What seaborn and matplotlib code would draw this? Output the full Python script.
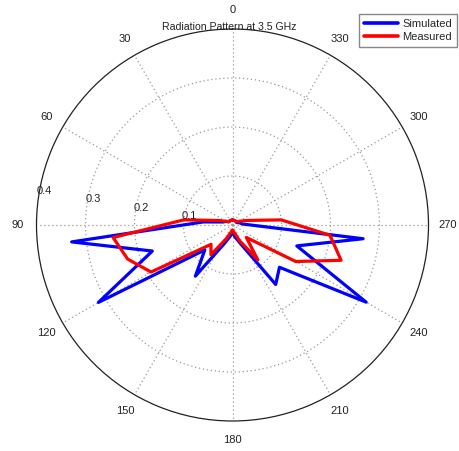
import numpy as np
import pandas as pd
import matplotlib
matplotlib.use("Agg")
import matplotlib.pyplot as plt
import seaborn as sns

sns.set_style("white")
plt.rcParams["font.family"] = ["Liberation Sans", "DejaVu Sans"]

# Sample angles (degrees), one every 12 degrees, loop closed at 360
angles_deg = [0, 12, 24, 36, 48, 60, 72, 84, 96, 108, 120, 132, 144, 156, 168,
              180, 192, 204, 216, 228, 240, 252, 264, 276, 288, 300, 312, 324,
              336, 348, 360]

simulated = [0.010, 0.010, 0.010, 0.010, 0.010, 0.015, 0.020, 0.060, 0.330,
             0.172, 0.316, 0.076, 0.129, 0.042, 0.024, 0.015, 0.025, 0.043,
             0.150, 0.129, 0.315, 0.138, 0.268, 0.020, 0.015, 0.010, 0.010,
             0.010, 0.010, 0.010, 0.010]

measured = [0.010, 0.010, 0.010, 0.010, 0.010, 0.015, 0.030, 0.100, 0.245,
            0.225, 0.192, 0.059, 0.075, 0.030, 0.015, 0.010, 0.015, 0.035,
            0.088, 0.038, 0.149, 0.233, 0.200, 0.100, 0.030, 0.015, 0.010,
            0.010, 0.010, 0.010, 0.010]

series_names = ["Simulated", "Measured"]
series_colors = ["#0000FF", "#FF0000"]

r_ticks = [0.1, 0.2, 0.3, 0.4]
theta_ticks = [0, 30, 60, 90, 120, 150, 180, 210, 240, 270, 300, 330]
title = "Radiation Pattern at 3.5 GHz"

r_max = 0.4

W, H = 459, 451
fig = plt.figure(figsize=(W / 100, H / 100), dpi=100)
cx, cy, rad = 232.5, 225.0, 196.0
ax = fig.add_axes([(cx - rad) / W, (H - cy - rad) / H, 2 * rad / W, 2 * rad / H],
                  projection="polar")
ax.set_theta_zero_location("N")
ax.set_theta_direction(1)
ax.set_ylim(0, r_max)
ax.set_facecolor("white")

# dotted spokes and rings
ax.set_xticks(np.deg2rad(theta_ticks))
ax.set_xticklabels([])
ax.set_yticks(r_ticks[:-1])
ax.set_yticklabels([])
ax.grid(True, color="#9a9a9a", linestyle=(0, (1, 2.2)), linewidth=0.9)
ax.spines["polar"].set_color("#222222")
ax.spines["polar"].set_linewidth(0.9)
ax.tick_params(length=0)

df = pd.DataFrame({
    "theta": np.deg2rad(angles_deg * 2),
    "r": simulated + measured,
    "series": [series_names[0]] * len(angles_deg) + [series_names[1]] * len(angles_deg),
})
for name, col in zip(series_names, series_colors):
    sub = df[df["series"] == name]
    sns.lineplot(data=sub, x="theta", y="r", sort=False, estimator=None,
                 color=col, linewidth=2.3, label=name, ax=ax, zorder=3)
ax.set_xlabel("")
ax.set_ylabel("")

# angle labels around the rim
for t in theta_ticks:
    ax.text(np.deg2rad(t), r_max * 1.097, str(t), ha="center", va="center",
            fontsize=8, color="#222222", clip_on=False)

# radius labels along a ray near 90 degrees
for rv in r_ticks:
    ax.text(np.deg2rad(80), rv + 0.005, f"{rv:g}", ha="left", va="center",
            fontsize=8, color="#222222", clip_on=False)

fig.text(229 / W, 1 - 27 / H, title, ha="center", va="center", fontsize=7.6,
         color="#222222")

leg = ax.legend(loc="upper left", bbox_to_anchor=(359 / W, 1 - 14 / H),
                bbox_transform=fig.transFigure, fontsize=8, frameon=True,
                fancybox=False, edgecolor="#888888", framealpha=1,
                handlelength=3.1, handletextpad=0.35, labelspacing=0.3,
                borderpad=0.45, borderaxespad=0)
leg.get_frame().set_linewidth(1.0)
for line in leg.get_lines():
    line.set_linewidth(2.6)

fig.savefig("out.png", dpi=100)
